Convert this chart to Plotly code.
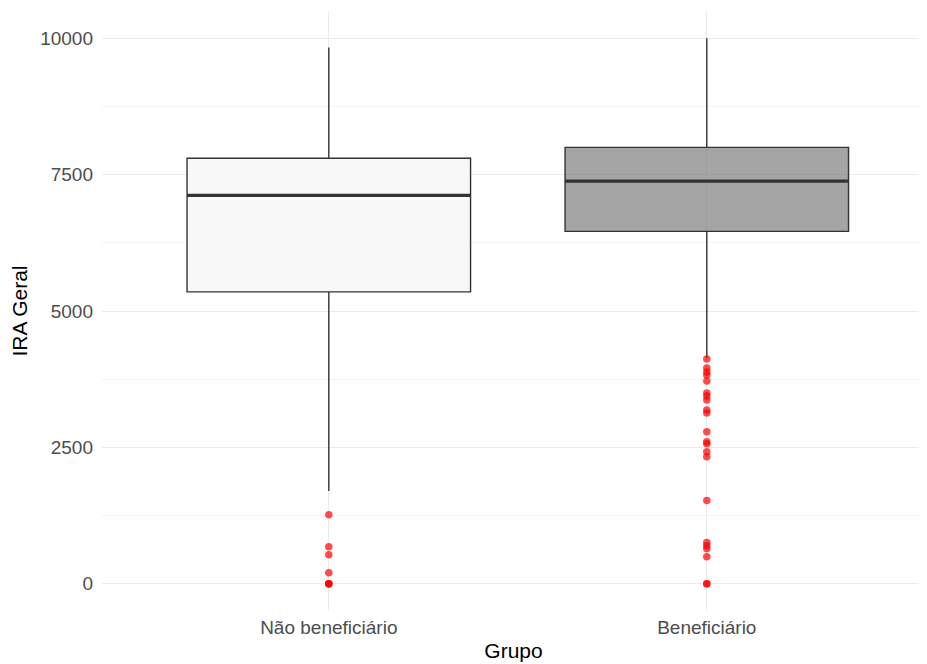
import plotly.graph_objects as go

groups = ["Não beneficiário", "Beneficiário"]
q1 = [5350, 6460]
median = [7120, 7380]
q3 = [7800, 8000]
lower_fence = [1700, 4140]
upper_fence = [9830, 10000]
box_fill = ["#F8F8F8", "rgba(127,127,127,0.7)"]

outliers_g1 = [1264, 678, 531, 201, 0, 0, 0]
outliers_g2 = [4121, 3956, 3883, 3828, 3718, 3498, 3443, 3370, 3187, 3132,
               2784, 2601, 2564, 2418, 2326, 1526, 757, 696, 641, 494, 0, 0]
outliers = [outliers_g1, outliers_g2]

y_ticks = [0, 2500, 5000, 7500, 10000]
box_width = 0.75

fig = go.Figure()
for i, g in enumerate(groups):
    xpos = i + 1
    fig.add_trace(go.Box(
        x=[xpos], q1=[q1[i]], median=[median[i]], q3=[q3[i]],
        lowerfence=[lower_fence[i]], upperfence=[upper_fence[i]],
        width=box_width, fillcolor=box_fill[i], whiskerwidth=0,
        line=dict(color="#333333", width=1.4),
        boxpoints=False, showlegend=False, hoverinfo="skip", name=g,
    ))
    fig.add_trace(go.Scatter(
        x=[xpos - box_width / 2, xpos + box_width / 2], y=[median[i], median[i]],
        mode="lines", line=dict(color="#333333", width=3.2),
        showlegend=False, hoverinfo="skip",
    ))
    fig.add_trace(go.Scatter(
        x=[xpos] * len(outliers[i]), y=outliers[i], mode="markers",
        marker=dict(color="rgba(255,0,0,0.7)", size=7.5, line=dict(width=0)),
        showlegend=False, hoverinfo="skip",
    ))

font_family = "Liberation Sans, Arial, sans-serif"
fig.update_layout(
    width=919, height=656,
    margin=dict(l=94, r=2, t=3, b=53),
    plot_bgcolor="white", paper_bgcolor="white",
    font=dict(family=font_family),
    xaxis=dict(
        range=[0.4, 0.4 + 823 / 378], tickvals=[1, 2], ticktext=groups,
        showgrid=True, gridcolor="#EBEBEB", gridwidth=1.1, zeroline=False,
        tickfont=dict(size=19, color="#4D4D4D"), ticklabelstandoff=3,
        title=dict(text="Grupo", font=dict(size=21, color="black"), standoff=6),
        showline=False,
    ),
    yaxis=dict(
        range=[-500, 10500], tickvals=y_ticks, ticktext=[str(v) for v in y_ticks],
        showgrid=True, gridcolor="#EBEBEB", gridwidth=1.1, zeroline=False,
        minor=dict(tickvals=[1250, 3750, 6250, 8750], showgrid=True,
                   gridcolor="#F4F4F4", gridwidth=1),
        tickfont=dict(size=19, color="#4D4D4D"), ticklabelstandoff=8,
        title=dict(text="IRA Geral", font=dict(size=21, color="black"), standoff=10),
        showline=False,
    ),
)

fig.write_html("out.html")
